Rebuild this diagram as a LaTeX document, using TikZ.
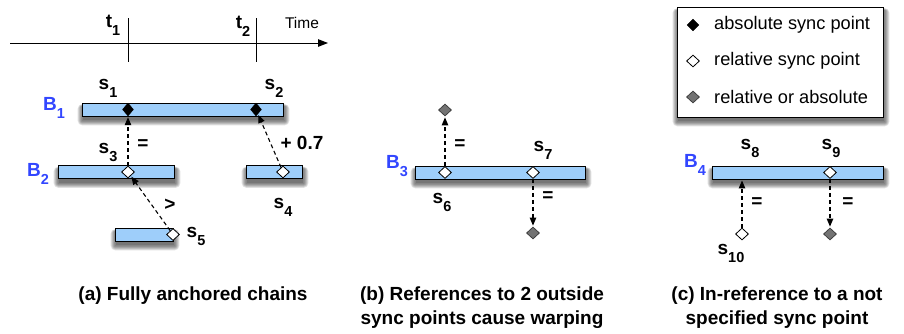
\documentclass[tikz,border=0pt]{standalone}
\usepackage{fontspec}
\setmainfont{Liberation Sans}
\usetikzlibrary{arrows.meta,shapes.geometric,backgrounds}

\definecolor{barblue}{RGB}{158,206,250}
\definecolor{labblue}{RGB}{50,70,255}
\definecolor{ptgray}{RGB}{115,115,115}

% letter with a lowered index, e.g. s_1, B_2
\newcommand\sublab[2]{#1\raisebox{-0.42em}{\fontsize{14.5}{14.5}\selectfont #2}}

\begin{document}
\begin{tikzpicture}[x=1pt,y=-1pt,
  bar/.style={draw=black, line width=0.9pt, fill=barblue, rectangle, inner sep=0pt,
    minimum height=13pt},
  absd/.style={diamond, draw=black, fill=black, inner sep=0pt, minimum width=11pt, minimum height=13pt},
  reld/.style={diamond, draw=black, fill=white, line width=0.8pt, inner sep=0pt, minimum width=13pt, minimum height=12pt},
  anyd/.style={diamond, draw=black!75, fill=ptgray, line width=0.8pt, inner sep=0pt, minimum width=13pt, minimum height=12pt},
  lab/.style={font=\bfseries\fontsize{19}{19}\selectfont, inner sep=0pt},
  blab/.style={lab, text=labblue},
  dasharrow/.style={draw=black, line width=1.1pt, dash pattern=on 4pt off 3pt,
    -{Triangle[length=8pt,width=6.5pt]}, shorten >=1pt},
  legtext/.style={font=\fontsize{18.2}{18.2}\selectfont, inner sep=0pt, anchor=west},
  caption/.style={font=\bfseries\fontsize{19}{24}\selectfont, align=center, inner sep=0pt, anchor=north},
  shadowlayer/.style={fill=black, opacity=0.12}
]
\useasboundingbox (0,0) rectangle (904,333);

% ---------- time axis ----------
\coordinate (ax0) at (10,43);
\coordinate (ax1) at (328,43);
\draw[line width=1pt, -{Triangle[length=10pt,width=7.5pt]}] (ax0) -- (ax1);
\coordinate (t1top) at (128,18); \coordinate (t1bot) at (128,62);
\coordinate (t2top) at (256,18); \coordinate (t2bot) at (256,62);
\draw[line width=1pt] (t1top) -- (t1bot);
\draw[line width=1pt] (t2top) -- (t2bot);
\node[lab] (lt1) at (113,25) {\sublab{t}{1}};
\node[lab] (lt2) at (243,26) {\sublab{t}{2}};
\node[font=\fontsize{15.5}{15.5}\selectfont, inner sep=0pt] (ltime) at (302,23) {Time};

% ---------- (a) fully anchored chains ----------
\node[bar, minimum width=201pt] (B1) at (182.5,109.5) {};
\node[bar, minimum width=116pt] (B2) at (116,172) {};
\node[bar, minimum width=56pt] (Br) at (274,172) {};
\node[bar, minimum width=58pt] (Bb) at (144,234.5) {};

\node[absd] (ds1) at (128,109.5) {};
\node[absd] (ds2) at (256,109.5) {};
\node[reld] (ds3) at (128,172) {};
\node[reld] (ds4) at (283,172) {};
\node[reld] (ds5) at (173,234.5) {};

\node[blab] (lB1) at (54,108) {\sublab{B}{1}};
\node[blab] (lB2) at (38,174) {\sublab{B}{2}};
\node[lab] (ls1) at (108,88) {\sublab{s}{1}};
\node[lab] (ls2) at (274,88) {\sublab{s}{2}};
\node[lab] (ls3) at (108,152) {\sublab{s}{3}};
\node[lab] (ls4) at (283,207) {\sublab{s}{4}};
\node[lab] (ls5) at (196,236) {\sublab{s}{5}};

\draw[dasharrow] (ds3) -- (ds1.south);
\draw[dasharrow] (ds4) -- (ds2);
\draw[dasharrow] (ds5) -- (ds3);

\node[lab] (eqa) at (143,145) {=};
\node[lab] (offa) at (302,143) {+ 0.7};
\node[lab] (gta) at (170,205) {>};

% ---------- (b) two outside references ----------
\node[bar, minimum width=170pt] (B3) at (500,172.5) {};
\node[reld] (ds6) at (445,172.5) {};
\node[reld] (ds7) at (533,172.5) {};
\node[anyd] (g6) at (445,110) {};
\node[anyd] (g7) at (533,233) {};

\node[blab] (lB3) at (397,166) {\sublab{B}{3}};
\node[lab] (ls6) at (442,202) {\sublab{s}{6}};
\node[lab] (ls7) at (543,150) {\sublab{s}{7}};

\draw[dasharrow] (ds6) -- (g6);
\draw[dasharrow] (ds7) -- (g7);
\node[lab] (eqb1) at (460,145) {=};
\node[lab] (eqb2) at (548,197) {=};

% ---------- (c) reference into an unspecified point ----------
\node[bar, minimum width=171pt] (B4) at (797.5,172.5) {};
\node[reld] (ds9) at (830,172.5) {};
\node[reld] (ds10) at (742,234) {};
\node[anyd] (g9) at (830,234) {};

\node[blab] (lB4) at (695,165) {\sublab{B}{4}};
\node[lab] (ls8) at (750,148) {\sublab{s}{8}};
\node[lab] (ls9) at (831,148) {\sublab{s}{9}};
\node[lab] (ls10) at (731,253) {\sublab{s}{10}};

\draw[dasharrow] (ds10) -- (ds10 |- B4.south);
\draw[dasharrow] (ds9) -- (g9);
\node[lab] (eqc1) at (757,203) {=};
\node[lab] (eqc2) at (848,203) {=};

% ---------- legend ----------
\node[draw=black, line width=0.9pt, fill=white, rectangle, minimum width=206pt, minimum height=110pt]
  (legend) at (780,62) {};
\node[absd, minimum width=12pt, minimum height=12pt] (kabs) at (693,25) {};
\node[reld] (krel) at (693,61) {};
\node[anyd] (kany) at (693,97) {};
\node[legtext] (tabs) at (714,25) {absolute sync point};
\node[legtext] (trel) at (714,61) {relative sync point};
\node[legtext] (tany) at (714,97) {relative or absolute};

% ---------- soft drop shadows below the bars and the legend ----------
\begin{pgfonlayer}{background}
  \foreach \b in {B1,B2,Br,Bb,B3,B4,legend}{
    \foreach \r in {0,1,...,5}{
      \fill[shadowlayer, rounded corners=\r pt]
        ([xshift={(1-\r)*1pt}, yshift={(-4+0.5*\r)*1pt}]\b.north west)
        rectangle ([xshift={(1+\r)*1pt}, yshift={(-4-\r)*1pt}]\b.south east);
    }
  }
\end{pgfonlayer}

% ---------- captions ----------
\node[caption] (capa) at (193,287) {(a) Fully anchored chains};
\node[caption] (capb) at (482,287) {(b) References to 2 outside\\sync points cause warping};
\node[caption] (capc) at (777,287) {(c) In-reference to a not\\specified sync point};
\end{tikzpicture}
\end{document}
